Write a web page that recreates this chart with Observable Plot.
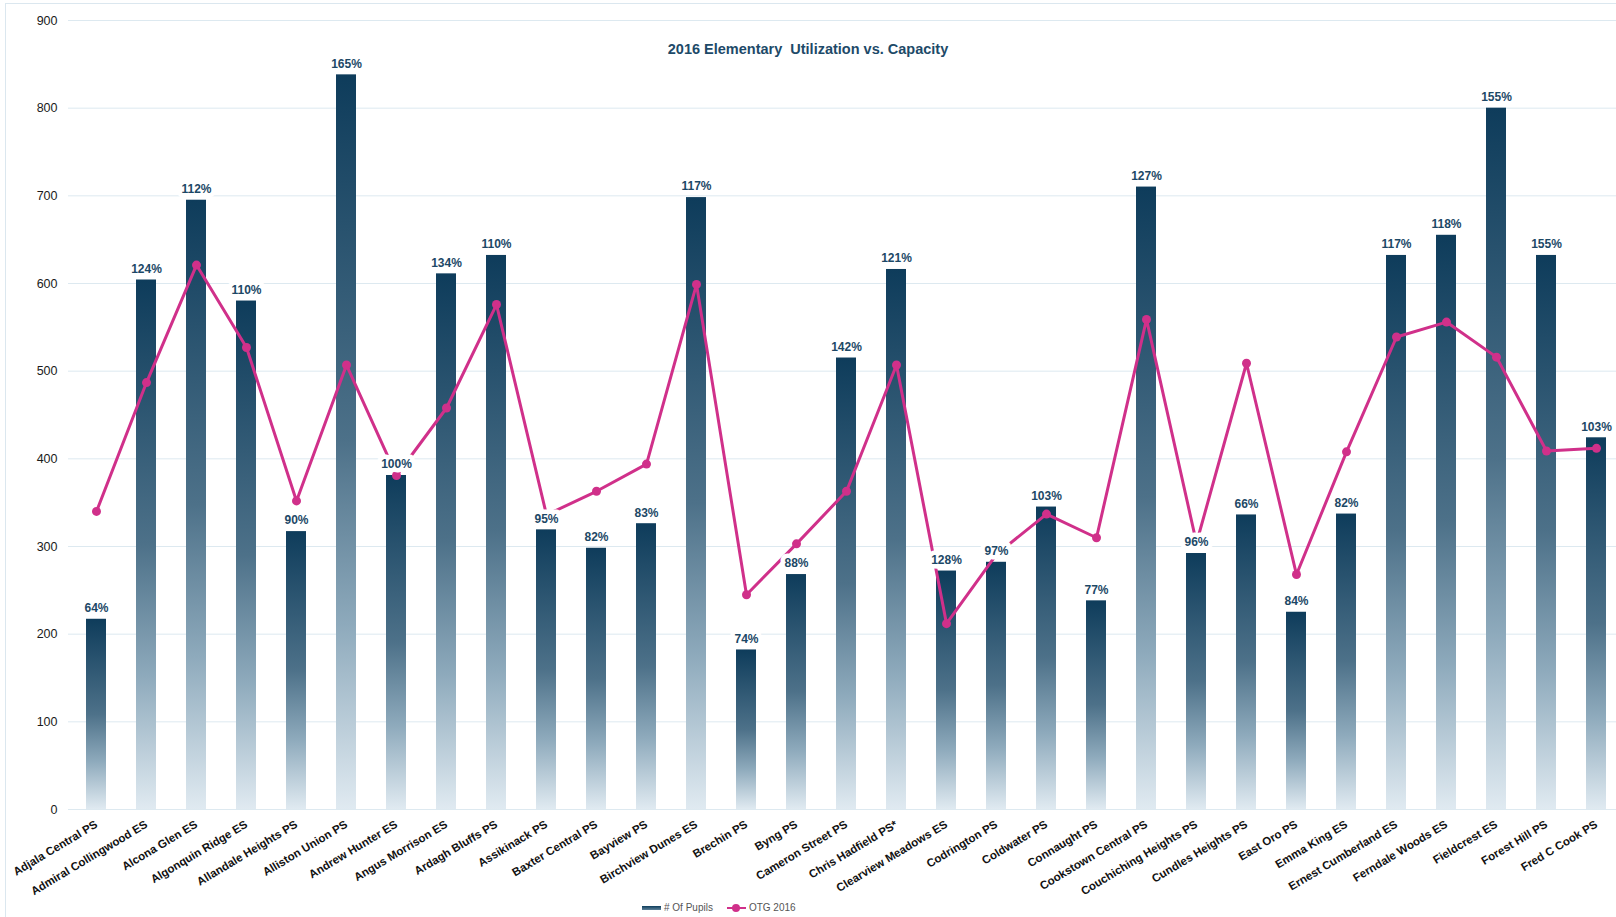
<!DOCTYPE html>
<html>
<head>
<meta charset="utf-8">
<script src="https://cdn.jsdelivr.net/npm/d3@7"></script>
<script src="https://cdn.jsdelivr.net/npm/@observablehq/plot@0.6"></script>
<style>
  html, body { margin: 0; padding: 0; background: #fff; overflow: hidden; width: 1616px; height: 917px; }
  #frame { position: absolute; left: 5px; top: 3px; width: 1660px; height: 960px; border: 1px solid #dbe7ef; box-sizing: border-box; }
  #chart { position: absolute; left: 0; top: 0; }
  #title { position: absolute; left: 0; width: 1616px; top: 41px; text-align: center; font: bold 14.5px "Liberation Sans", Arial, sans-serif; color: #1d4a68; white-space: pre; }
  #legend { position: absolute; left: 642px; top: 902px; font: 10px "Liberation Sans", Arial, sans-serif; color: #555; display: flex; align-items: center; }
  .sw-bar { display: inline-block; width: 19px; height: 4px; background: linear-gradient(#0e3d5c, #5f8299); margin-right: 3px; }
  .sw-line { display: inline-block; position: relative; width: 19px; height: 10px; margin-right: 3px; margin-left: 14px; }
  .sw-line::before { content: ""; position: absolute; left: 0; right: 0; top: 4px; height: 2.5px; background: #d0308a; }
  .sw-line::after { content: ""; position: absolute; left: 5.5px; top: 1.5px; width: 8px; height: 8px; border-radius: 50%; background: #d0308a; }
</style>
</head>
<body>
<div id="frame"></div>
<div id="chart"></div>
<div id="title">2016 Elementary  Utilization vs. Capacity</div>
<div id="legend"><span class="sw-bar"></span># Of Pupils<span class="sw-line"></span>OTG 2016</div>
<script>
const schools = ["Adjala Central PS","Admiral Collingwood ES","Alcona Glen ES","Algonquin Ridge ES","Allandale Heights PS","Alliston Union PS","Andrew Hunter ES","Angus Morrison ES","Ardagh Bluffs PS","Assikinack PS","Baxter Central PS","Bayview PS","Birchview Dunes ES","Brechin PS","Byng PS","Cameron Street PS","Chris Hadfield PS*","Clearview Meadows ES","Codrington PS","Coldwater PS","Connaught PS","Cookstown Central PS","Couchiching Heights PS","Cundles Heights PS","East Oro PS","Emma King ES","Ernest Cumberland ES","Ferndale Woods ES","Fieldcrest ES","Forest Hill PS","Fred C Cook PS"];
const pupils = [217,604,695,580,317,838,381,611,632,319,298,326,698,182,268,515,616,272,282,345,238,710,292,336,225,337,632,655,800,632,424];
const otg = [340,487,621,527,352,507,381,458,576,336,363,394,599,245,303,363,507,212,291,337,310,559,304,509,268,408,539,556,516,409,412];
const utilization = ["64%","124%","112%","110%","90%","165%","100%","134%","110%","95%","82%","83%","117%","74%","88%","142%","121%","128%","97%","103%","77%","127%","96%","66%","84%","82%","117%","118%","155%","155%","103%"];
const yTicks = [0,100,200,300,400,500,600,700,800,900];

const data = schools.map((s, i) => ({school: s, pupils: pupils[i], otg: otg[i], label: utilization[i]}));

const magenta = "#d0308a";
const chart = Plot.plot({
  width: 1616,
  height: 917,
  marginLeft: 68,
  marginRight: 0,
  marginTop: 20,
  marginBottom: 108,
  style: {fontFamily: "'Liberation Sans', Arial, sans-serif", background: "transparent"},
  x: {domain: schools, range: [68, 1623], paddingInner: 0.6, paddingOuter: 0.3, align: 0.5},
  y: {domain: [0, 900]},
  marks: [
    Plot.gridY(yTicks, {stroke: "#dde9f0", strokeOpacity: 1, strokeWidth: 1}),
    Plot.barY(data, {x: "school", y: "pupils", fill: "url(#barGrad)"}),
    Plot.line(data, {x: "school", y: "otg", stroke: magenta, strokeWidth: 3}),
    Plot.dot(data, {x: "school", y: "otg", r: 4.5, fill: magenta}),
    Plot.text(data, {x: "school", y: "pupils", text: "label", dy: -11, fontSize: 12, fontWeight: "bold", fill: "#1c4866", stroke: "white", strokeWidth: 9, strokeLinejoin: "round"}),
    Plot.axisY(yTicks, {tickSize: 0, tickPadding: 11, fontSize: 12.5, fill: "#1a1a1a", label: null}),
    Plot.axisX({tickSize: 0, tickPadding: 14, tickRotate: -31, fontSize: 11.5, fontWeight: "bold", fill: "#111", label: null})
  ]
});

const ns = "http://www.w3.org/2000/svg";
const defs = document.createElementNS(ns, "defs");
defs.innerHTML = `<linearGradient id="barGrad" x1="0" y1="0" x2="0" y2="1">
  <stop offset="0" stop-color="#0e3c5b"/>
  <stop offset="0.5" stop-color="#4d7189"/>
  <stop offset="0.75" stop-color="#8eaabc"/>
  <stop offset="1" stop-color="#e0eaf1"/>
</linearGradient>`;
chart.insertBefore(defs, chart.firstChild);
document.getElementById("chart").appendChild(chart);
</script>
</body>
</html>
